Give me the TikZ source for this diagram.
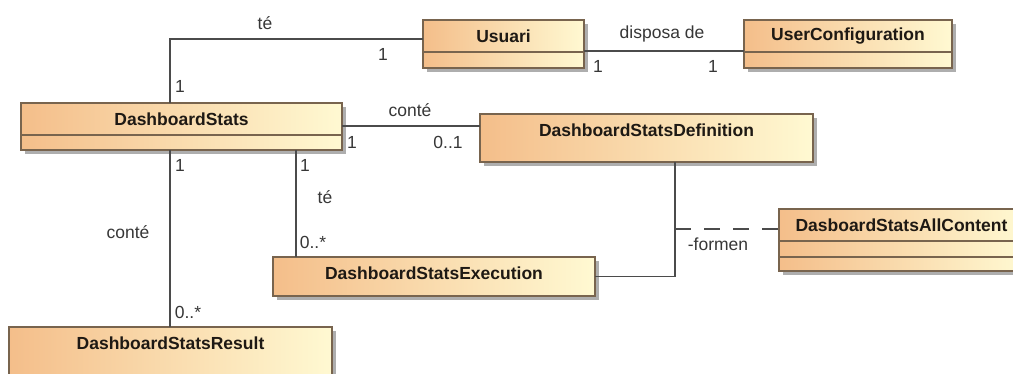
\documentclass[tikz,border=0pt]{standalone}
\usepackage{fontspec}
\setmainfont{Liberation Sans}
\usetikzlibrary{calc,shadows}

\definecolor{boxleft}{RGB}{244,190,138}
\definecolor{boxright}{RGB}{255,249,210}
\definecolor{boxedge}{RGB}{120,100,78}
\definecolor{wire}{RGB}{75,75,75}
\definecolor{labeltext}{RGB}{55,55,55}
\definecolor{nametext}{RGB}{30,25,20}

\tikzset{
  classbox/.style={draw=boxedge, line width=1.1pt, left color=boxleft, right color=boxright,
    anchor=north west, inner sep=0pt, outer sep=0pt,
    drop shadow={shadow xshift=3.5pt, shadow yshift=-3.5pt, fill=black!45, opacity=0.7}},
  classname/.style={font=\fontsize{17.5}{20}\selectfont\bfseries, text=nametext, inner sep=0pt},
  divider/.style={draw=boxedge, line width=1.1pt},
  assoc/.style={draw=wire, line width=1.2pt},
  assocclass/.style={draw=wire, line width=1.2pt, dash pattern=on 16pt off 13pt},
  rolelabel/.style={font=\fontsize{17.5}{20}\selectfont, text=labeltext, inner sep=0pt},
}

\begin{document}
\begin{tikzpicture}[x=1pt, y=-1pt]
\useasboundingbox[fill=white] (0,0) rectangle (1013,373);

% ---- classes ----
\node[classbox, minimum width=161pt, minimum height=48pt] (usuari) at (423,20) {};
\node[classname] (usuari-name) at ($(usuari.north)+(0,16)$) {Usuari};
\draw[divider] ($(usuari.north west)+(0,32)$) -- ($(usuari.north east)+(0,32)$);

\node[classbox, minimum width=208pt, minimum height=48pt] (ucfg) at (744,20) {};
\node[classname] (ucfg-name) at ($(ucfg.north)+(0,16)$) {UserConfiguration};
\draw[divider] ($(ucfg.north west)+(0,32)$) -- ($(ucfg.north east)+(0,32)$);

\node[classbox, minimum width=321pt, minimum height=47pt] (ds) at (21,103) {};
\node[classname] (ds-name) at ($(ds.north)+(0,16)$) {DashboardStats};
\draw[divider] ($(ds.north west)+(0,32)$) -- ($(ds.north east)+(0,32)$);

\node[classbox, minimum width=333pt, minimum height=48pt] (def) at (480,114) {};
\node[classname] (def-name) at ($(def.north)+(0,16)$) {DashboardStatsDefinition};

\node[classbox, minimum width=322pt, minimum height=39pt] (exec) at (273,257) {};
\node[classname] (exec-name) at ($(exec.north)+(0,16)$) {DashboardStatsExecution};

\node[classbox, minimum width=245pt, minimum height=62pt] (allc) at (779,209) {};
\node[classname] (allc-name) at ($(allc.north)+(0,16)$) {DasboardStatsAllContent};
\draw[divider] ($(allc.north west)+(0,32)$) -- ($(allc.north east)+(0,32)$);
\draw[divider] ($(allc.north west)+(0,48)$) -- ($(allc.north east)+(0,48)$);

\node[classbox, minimum width=323pt, minimum height=48pt] (res) at (9,327) {};
\node[classname] (res-name) at ($(res.north)+(0,16)$) {DashboardStatsResult};

% ---- connection points ----
\coordinate (ds-top)   at ($(ds.north west)+(149,0)$);
\coordinate (usr-in)   at ($(usuari.north west)+(0,19)$);
\coordinate (usr-out)  at ($(usuari.north east)+(0,31)$);
\coordinate (ds-right) at ($(ds.north east)+(0,23)$);
\coordinate (ds-bot1)  at ($(ds.south west)+(149,0)$);
\coordinate (ds-bot2)  at ($(ds.south west)+(275,0)$);
\coordinate (def-bot)  at ($(def.south west)+(195,0)$);
\coordinate (allc-in)  at ($(allc.north west)+(0,20)$);
\coordinate (ac-join)  at (def-bot |- allc-in);

% ---- associations ----
\draw[assoc] (ds-top) |- (usr-in);
\draw[assoc] (usr-out) -- (usr-out -| ucfg.west);
\draw[assoc] (ds-right) -- (ds-right -| def.west);
\draw[assoc] (ds-bot1) -- (ds-bot1 |- res.north);
\draw[assoc] (ds-bot2) -- (ds-bot2 |- exec.north);
\draw[assoc] (exec.east) -| (def-bot);
\draw[assocclass] (ac-join) -- (allc-in);

% ---- labels and multiplicities ----
\node[rolelabel] (l-te1)   at (265,23)  {té};
\node[rolelabel] (m-usr1)  at (383,54)  {1};
\node[rolelabel] (m-ds1)   at (180,86)  {1};
\node[rolelabel] (l-disp)  at (662,34)  {disposa de};
\node[rolelabel] (m-usr2)  at (598,66)  {1};
\node[rolelabel] (m-ucfg)  at (713,66)  {1};
\node[rolelabel] (l-conte1) at (410,110) {conté};
\node[rolelabel] (m-ds2)   at (352,142) {1};
\node[rolelabel] (m-def)   at (448,142) {0..1};
\node[rolelabel] (m-ds3)   at (180,165) {1};
\node[rolelabel] (m-ds4)   at (305,165) {1};
\node[rolelabel] (l-te2)   at (325,197) {té};
\node[rolelabel] (l-conte2) at (128,232) {conté};
\node[rolelabel] (m-exec)  at (313,242) {0..*};
\node[rolelabel] (m-res)   at (188,312) {0..*};
\node[rolelabel] (l-form)  at (718,244) {-formen};
\end{tikzpicture}
\end{document}
